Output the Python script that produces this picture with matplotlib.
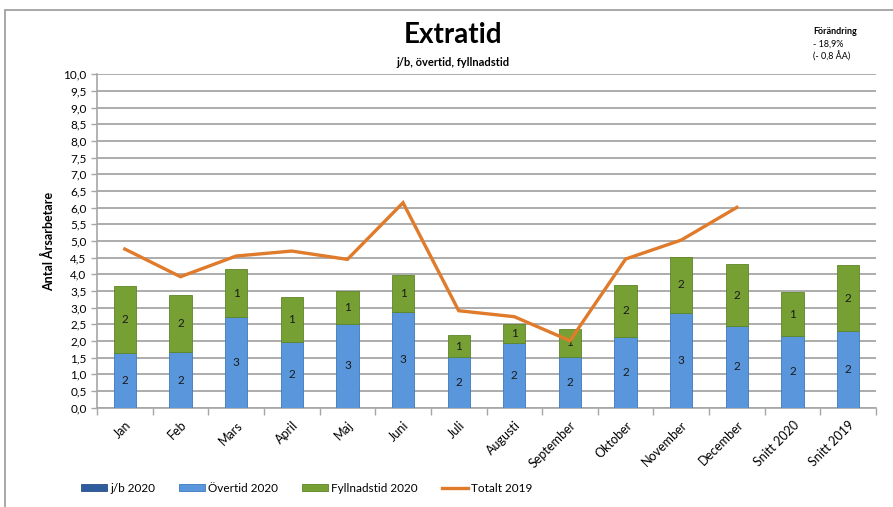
import numpy as np
import matplotlib.pyplot as plt
from matplotlib.patches import Rectangle

plt.rcParams['font.family'] = ['Lato', 'DejaVu Sans']

categories = ["Jan", "Feb", "Mars", "April", "Maj", "Juni", "Juli", "Augusti",
              "September", "Oktober", "November", "December", "Snitt 2020", "Snitt 2019"]
jb_2020 = [0, 0, 0, 0, 0, 0, 0, 0, 0, 0, 0, 0, 0, 0]
overtid_2020 = [1.63, 1.66, 2.73, 1.98, 2.51, 2.87, 1.51, 1.93, 1.52, 2.13, 2.85, 2.45, 2.15, 2.30]
fyllnad_2020 = [2.02, 1.73, 1.42, 1.35, 1.00, 1.11, 0.68, 0.58, 0.85, 1.55, 1.68, 1.85, 1.31, 1.98]
totalt_2019 = [4.76, 3.93, 4.55, 4.70, 4.45, 6.15, 2.91, 2.73, 2.01, 4.46, 5.03, 6.01, np.nan, np.nan]

c_jb = "#2F5C9E"
c_ov = "#5A96DC"
c_fy = "#77A034"
c_line = "#E07B2C"
grid_c = "#A6A6A6"

fig = plt.figure(figsize=(8.93, 5.07), dpi=100)
ax = fig.add_axes([97 / 893, 1 - 407.7 / 507, 779 / 893, 333.3 / 507])

x = np.arange(len(categories))
w = 0.4
b_jb = ax.bar(x, jb_2020, w, color=c_jb, edgecolor="#2A4F86", lw=0.6, label="j/b 2020", zorder=3)
b_ov = ax.bar(x, overtid_2020, w, bottom=jb_2020, color=c_ov, edgecolor="#3F78BC",
              lw=0.6, label="Övertid 2020", zorder=3)
bottom2 = np.array(jb_2020) + np.array(overtid_2020)
b_fy = ax.bar(x, fyllnad_2020, w, bottom=bottom2, color=c_fy, edgecolor="#5E8526",
              lw=0.6, label="Fyllnadstid 2020", zorder=3)
ln, = ax.plot(x, totalt_2019, color=c_line, lw=2.4, label="Totalt 2019", zorder=4,
              solid_joinstyle="miter")

ax.bar_label(b_ov, labels=[f"{v:.0f}" for v in overtid_2020], label_type="center",
             fontsize=8.5, color="#1a1a1a")
ax.bar_label(b_fy, labels=[f"{v:.0f}" for v in fyllnad_2020], label_type="center",
             fontsize=8.5, color="#1a1a1a")

ax.set_xlim(-0.5, len(categories) - 0.5)
ax.set_ylim(0, 10)
yt = np.arange(0, 10.01, 0.5)
ax.set_yticks(yt)
ax.set_yticklabels([f"{v:.1f}".replace(".", ",") for v in yt], fontsize=8.5)
ax.yaxis.grid(True, color=grid_c, lw=1.3, zorder=0)
ax.set_axisbelow(True)

ax.set_xticks(x)
ax.set_xticklabels(categories, rotation=45, ha="right", rotation_mode="anchor", fontsize=9)
ax.tick_params(axis="x", length=0, pad=8)
ax.set_xticks(np.arange(-0.5, len(categories)), minor=True)
ax.tick_params(axis="x", which="minor", length=5, color=grid_c, width=1)
ax.tick_params(axis="y", length=4, color=grid_c, width=1)

for s in ["top", "right"]:
    ax.spines[s].set_visible(False)
ax.spines["left"].set_color(grid_c)
ax.spines["bottom"].set_color(grid_c)
ax.spines["left"].set_linewidth(1.2)
ax.spines["bottom"].set_linewidth(1.2)

ax.set_ylabel("Antal Årsarbetare", fontsize=9, fontweight="bold", labelpad=6)

fig.text(453 / 893, 1 - 35 / 507, "Extratid", fontsize=20, fontweight="bold",
         ha="center", va="center")
fig.text(453 / 893, 1 - 62 / 507, "j/b, övertid, fyllnadstid", fontsize=8,
         fontweight="bold", ha="center", va="center")
fig.text(813 / 893, 1 - 31 / 507, "Förändring", fontsize=6.5, fontweight="bold",
         ha="left", va="center")
fig.text(813 / 893, 1 - 44 / 507, "- 18,9%", fontsize=6.5, ha="left", va="center")
fig.text(813 / 893, 1 - 56 / 507, "(- 0,8 ÅA)", fontsize=6.5, ha="left", va="center")

fig.legend(handles=[b_jb, b_ov, b_fy, ln], loc="center left",
           bbox_to_anchor=(70 / 893, 1 - 488 / 507), ncol=4,
           frameon=False, fontsize=8.5, handlelength=2.2, handleheight=0.6,
           columnspacing=2.0, handletextpad=0.3)

fig.patches.append(Rectangle((5 / 893, -0.05), 2, 1 - 10 / 507 + 0.05,
                             transform=fig.transFigure, fill=False,
                             edgecolor="#999999", lw=1.2))

fig.savefig("out.png", dpi=100)
